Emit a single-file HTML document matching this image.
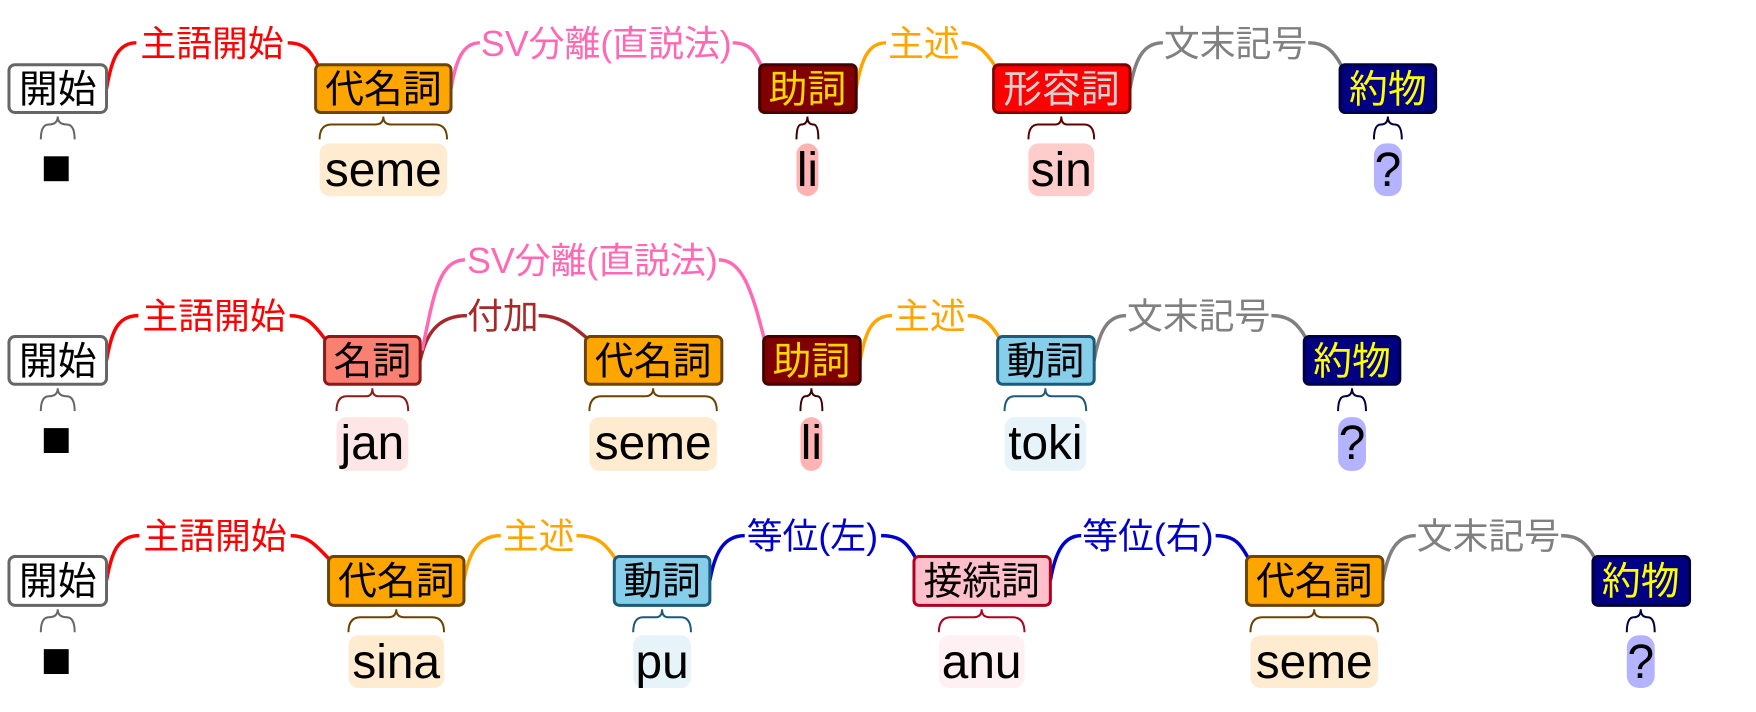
<!DOCTYPE html>
<html><head><meta charset="utf-8"><style>
html,body{margin:0;padding:0;background:#fff;width:1756px;height:712px;overflow:hidden}
svg{display:block}
.n{font-family:"Liberation Sans","Noto Sans CJK JP",sans-serif;font-size:39px;text-anchor:middle}
.l{font-family:"Liberation Sans","Noto Sans CJK JP",sans-serif;font-size:36px;text-anchor:middle}
.w{font-family:"Liberation Sans","Noto Sans CJK JP",sans-serif;font-size:48px;text-anchor:middle;fill:#000}
path{fill:none}
.c{stroke-width:3.5}
.b{stroke-width:2}
</style></head><body>
<svg width="1756" height="712" xmlns="http://www.w3.org/2000/svg">
<g transform="scale(0.9956)">
<!-- ================= ROW 1 ================= -->
<g>
<path class="c" stroke="#ff0000" d="M107,89 C112,60 118,43 137,43 M289,43 C305,43 312,50 320,67"/>
<text class="l" x="213" y="56" fill="#ff0000">主語開始</text>
<path class="c" stroke="#ff69b4" d="M453,89 C458,60 465,43 482,43 M736,43 C752,43 758,50 765,67"/>
<text class="l" x="609" y="56" fill="#ff69b4">SV分離(直説法)</text>
<path class="c" stroke="#ffa500" d="M860,89 C865,60 872,43 890,43 M966,43 C982,43 990,52 1000,67"/>
<text class="l" x="928" y="56" fill="#ffa500">主述</text>
<path class="c" stroke="#808080" d="M1135,89 C1140,60 1148,43 1168,43 M1314,43 C1332,43 1340,52 1348,67"/>
<text class="l" x="1241" y="56" fill="#808080">文末記号</text>

<rect x="9" y="65" width="98" height="48" rx="6" fill="#fff" stroke="#666" stroke-width="3"/>
<text class="n" x="58" y="103" fill="#000">開始</text>
<rect x="317" y="65" width="136" height="48" rx="5" fill="#ffa500" stroke="#6b4400" stroke-width="3"/>
<text class="n" x="385" y="103" fill="#000">代名詞</text>
<rect x="763" y="65" width="97" height="48" rx="5" fill="#800000" stroke="#400000" stroke-width="3"/>
<text class="n" x="811" y="103" fill="#ffd700">助詞</text>
<rect x="998" y="65" width="137" height="48" rx="5" fill="#ff0000" stroke="#800000" stroke-width="3"/>
<text class="n" x="1066" y="103" fill="#d3d3d3">形容詞</text>
<rect x="1346" y="65" width="96" height="48" rx="5" fill="#000080" stroke="#000040" stroke-width="3"/>
<text class="n" x="1394" y="103" fill="#ffff00">約物</text>

<path class="b" stroke="#666" d="M41,140 Q41,125 49,125 Q58,125 58,117 Q58,125 67,125 Q75,125 75,140"/>
<rect x="44" y="157" width="25" height="25" fill="#000"/>
<path class="b" stroke="#6b4400" d="M321,140 Q321,125 333,125 L377,125 Q385,125 385,117 Q385,125 393,125 L437,125 Q449,125 449,140"/>
<rect x="321" y="144" width="128" height="53" rx="10" fill="#ffecd0"/>
<text class="w" x="385" y="187">seme</text>
<path class="b" stroke="#400000" d="M800,140 Q800,125 805,125 Q811,125 811,117 Q811,125 817,125 Q822,125 822,140"/>
<rect x="800" y="144" width="22" height="53" rx="11" fill="#ffb3b3"/>
<text class="w" x="811" y="187">li</text>
<path class="b" stroke="#600000" d="M1033,140 Q1033,125 1043,125 L1060,125 Q1066,125 1066,117 Q1066,125 1072,125 L1089,125 Q1099,125 1099,140"/>
<rect x="1033" y="144" width="66" height="53" rx="10" fill="#ffcccc"/>
<text class="w" x="1066" y="187">sin</text>
<path class="b" stroke="#000040" d="M1380,140 Q1380,125 1387,125 Q1394,125 1394,117 Q1394,125 1401,125 Q1408,125 1408,140"/>
<rect x="1380" y="144" width="28" height="53" rx="12" fill="#b3b3ff"/>
<text class="w" x="1394" y="187">?</text>
</g>

<!-- ================= ROW 2 ================= -->
<g>
<path class="c" stroke="#ff0000" d="M107,362 C112,333 118,317 139,317 M291,317 C307,317 314,324 326,340"/>
<text class="l" x="215" y="330" fill="#ff0000">主語開始</text>
<path class="c" stroke="#a52a2a" d="M422,362 C428,335 440,317 469,317 M541,317 C565,317 578,330 590,340"/>
<text class="l" x="505" y="330" fill="#a52a2a">付加</text>
<path class="c" stroke="#ff69b4" d="M424,352 C435,300 440,261 467,261 M722,261 C745,261 755,290 768,342"/>
<text class="l" x="595" y="274" fill="#ff69b4">SV分離(直説法)</text>
<path class="c" stroke="#ffa500" d="M864,362 C869,333 876,317 896,317 M972,317 C988,317 996,326 1004,340"/>
<text class="l" x="934" y="330" fill="#ffa500">主述</text>
<path class="c" stroke="#808080" d="M1099,362 C1104,333 1112,317 1131,317 M1277,317 C1296,317 1304,326 1312,340"/>
<text class="l" x="1204" y="330" fill="#808080">文末記号</text>

<rect x="9" y="338" width="98" height="48" rx="6" fill="#fff" stroke="#666" stroke-width="3"/>
<text class="n" x="58" y="376" fill="#000">開始</text>
<rect x="326" y="338" width="96" height="48" rx="5" fill="#fa8072" stroke="#8b1a1a" stroke-width="3"/>
<text class="n" x="374" y="376" fill="#000">名詞</text>
<rect x="588" y="338" width="137" height="48" rx="5" fill="#ffa500" stroke="#6b4400" stroke-width="3"/>
<text class="n" x="656" y="376" fill="#000">代名詞</text>
<rect x="767" y="338" width="97" height="48" rx="5" fill="#800000" stroke="#400000" stroke-width="3"/>
<text class="n" x="815" y="376" fill="#ffd700">助詞</text>
<rect x="1002" y="338" width="97" height="48" rx="5" fill="#87ceeb" stroke="#1b5a78" stroke-width="3"/>
<text class="n" x="1050" y="376" fill="#000">動詞</text>
<rect x="1310" y="338" width="96" height="48" rx="5" fill="#000080" stroke="#000040" stroke-width="3"/>
<text class="n" x="1358" y="376" fill="#ffff00">約物</text>

<path class="b" stroke="#666" d="M41,413 Q41,398 49,398 Q58,398 58,390 Q58,398 67,398 Q75,398 75,413"/>
<rect x="44" y="430" width="25" height="25" fill="#000"/>
<path class="b" stroke="#8b1a1a" d="M338,413 Q338,398 348,398 L368,398 Q374,398 374,390 Q374,398 380,398 L400,398 Q410,398 410,413"/>
<rect x="338" y="419" width="72" height="54" rx="10" fill="#ffe6e6"/>
<text class="w" x="374" y="461">jan</text>
<path class="b" stroke="#6b4400" d="M592,413 Q592,398 604,398 L648,398 Q656,398 656,390 Q656,398 664,398 L708,398 Q720,398 720,413"/>
<rect x="592" y="419" width="128" height="54" rx="10" fill="#ffecd0"/>
<text class="w" x="656" y="461">seme</text>
<path class="b" stroke="#400000" d="M804,413 Q804,398 809,398 Q815,398 815,390 Q815,398 821,398 Q826,398 826,413"/>
<rect x="804" y="419" width="22" height="54" rx="11" fill="#ffb3b3"/>
<text class="w" x="815" y="461">li</text>
<path class="b" stroke="#1b5a78" d="M1009,413 Q1009,398 1019,398 L1044,398 Q1050,398 1050,390 Q1050,398 1056,398 L1081,398 Q1091,398 1091,413"/>
<rect x="1009" y="419" width="82" height="54" rx="10" fill="#e6f4fa"/>
<text class="w" x="1050" y="461">toki</text>
<path class="b" stroke="#000040" d="M1344,413 Q1344,398 1351,398 Q1358,398 1358,390 Q1358,398 1365,398 Q1372,398 1372,413"/>
<rect x="1344" y="419" width="28" height="54" rx="12" fill="#b3b3ff"/>
<text class="w" x="1358" y="461">?</text>
</g>

<!-- ================= ROW 3 ================= -->
<g>
<path class="c" stroke="#ff0000" d="M107,583 C112,555 118,538 140,538 M292,538 C308,538 316,546 330,561"/>
<text class="l" x="216" y="551" fill="#ff0000">主語開始</text>
<path class="c" stroke="#ffa500" d="M466,583 C471,555 480,538 503,538 M579,538 C600,538 608,546 618,561"/>
<text class="l" x="541" y="551" fill="#ffa500">主述</text>
<path class="c" stroke="#0000cd" d="M713,583 C718,555 727,538 748,538 M885,538 C905,538 912,546 920,561"/>
<text class="l" x="816" y="551" fill="#0000cd">等位(左)</text>
<path class="c" stroke="#0000cd" d="M1055,583 C1060,555 1068,538 1086,538 M1221,538 C1240,538 1246,546 1254,561"/>
<text class="l" x="1153" y="551" fill="#0000cd">等位(右)</text>
<path class="c" stroke="#808080" d="M1389,583 C1394,555 1402,538 1422,538 M1568,538 C1586,538 1594,546 1602,561"/>
<text class="l" x="1495" y="551" fill="#808080">文末記号</text>

<rect x="9" y="559" width="98" height="49" rx="6" fill="#fff" stroke="#666" stroke-width="3"/>
<text class="n" x="58" y="597" fill="#000">開始</text>
<rect x="330" y="559" width="136" height="49" rx="5" fill="#ffa500" stroke="#6b4400" stroke-width="3"/>
<text class="n" x="398" y="597" fill="#000">代名詞</text>
<rect x="617" y="559" width="96" height="49" rx="5" fill="#87ceeb" stroke="#1b5a78" stroke-width="3"/>
<text class="n" x="665" y="597" fill="#000">動詞</text>
<rect x="918" y="559" width="137" height="49" rx="5" fill="#ffc0cb" stroke="#b00020" stroke-width="3"/>
<text class="n" x="986" y="597" fill="#000">接続詞</text>
<rect x="1252" y="559" width="137" height="49" rx="5" fill="#ffa500" stroke="#6b4400" stroke-width="3"/>
<text class="n" x="1320" y="597" fill="#000">代名詞</text>
<rect x="1600" y="559" width="97" height="49" rx="5" fill="#000080" stroke="#000040" stroke-width="3"/>
<text class="n" x="1648" y="597" fill="#ffff00">約物</text>

<path class="b" stroke="#666" d="M41,635 Q41,620 49,620 Q58,620 58,612 Q58,620 67,620 Q75,620 75,635"/>
<rect x="44" y="652" width="25" height="25" fill="#000"/>
<path class="b" stroke="#6b4400" d="M350,635 Q350,620 362,620 L390,620 Q398,620 398,612 Q398,620 406,620 L434,620 Q446,620 446,635"/>
<rect x="350" y="638" width="96" height="53" rx="10" fill="#ffecd0"/>
<text class="w" x="398" y="681">sina</text>
<path class="b" stroke="#1b5a78" d="M636,635 Q636,620 646,620 L659,620 Q665,620 665,612 Q665,620 671,620 L684,620 Q694,620 694,635"/>
<rect x="636" y="638" width="58" height="53" rx="10" fill="#e6f4fa"/>
<text class="w" x="665" y="681">pu</text>
<path class="b" stroke="#b00020" d="M943,635 Q943,620 955,620 L978,620 Q986,620 986,612 Q986,620 994,620 L1017,620 Q1029,620 1029,635"/>
<rect x="943" y="638" width="86" height="53" rx="10" fill="#fff0f3"/>
<text class="w" x="986" y="681">anu</text>
<path class="b" stroke="#6b4400" d="M1256,635 Q1256,620 1268,620 L1312,620 Q1320,620 1320,612 Q1320,620 1328,620 L1372,620 Q1384,620 1384,635"/>
<rect x="1256" y="638" width="128" height="53" rx="10" fill="#ffecd0"/>
<text class="w" x="1320" y="681">seme</text>
<path class="b" stroke="#000040" d="M1634,635 Q1634,620 1641,620 Q1648,620 1648,612 Q1648,620 1655,620 Q1662,620 1662,635"/>
<rect x="1634" y="638" width="28" height="53" rx="12" fill="#b3b3ff"/>
<text class="w" x="1648" y="681">?</text>
</g>
</g>
</svg>
</body></html>
